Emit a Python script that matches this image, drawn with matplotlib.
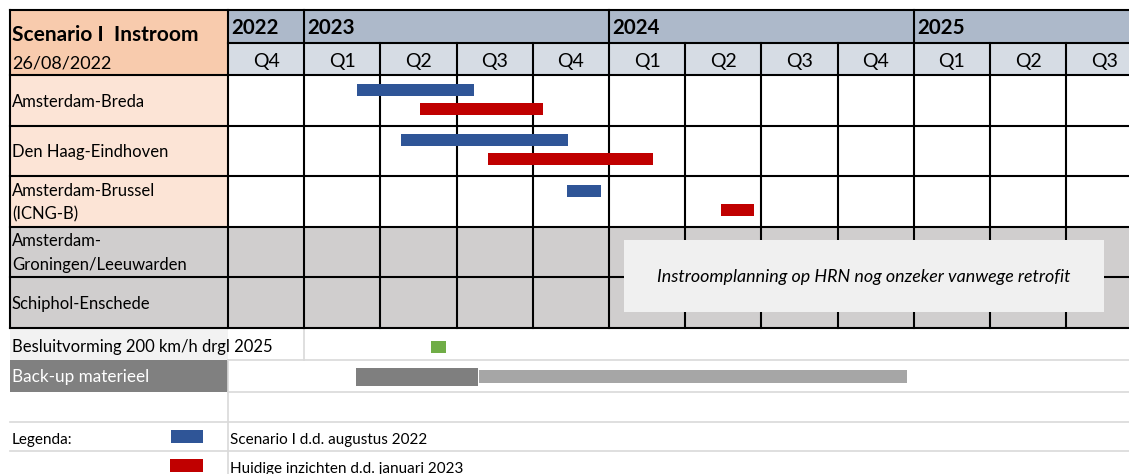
import matplotlib
matplotlib.use("Agg")
import matplotlib.pyplot as plt
from matplotlib.patches import Rectangle

plt.rcParams["font.family"] = ["Lato", "DejaVu Sans"]

# chart data (x in quarters, 0 = start of 2022 Q4)
years = ["2022", "2023", "2024", "2025"]
year_start = [0, 1, 5, 9]
quarters = ["Q4", "Q1", "Q2", "Q3", "Q4", "Q1", "Q2", "Q3", "Q4", "Q1", "Q2", "Q3"]
routes = ["Amsterdam-Breda", "Den Haag-Eindhoven", "Amsterdam-Brussel\n(ICNG-B)",
          "Amsterdam-\nGroningen/Leeuwarden", "Schiphol-Enschede"]
route_uncertain = [False, False, False, True, True]
plan_aug_start = [1.69, 2.27, 4.45]
plan_aug_end = [3.23, 4.46, 4.90]
plan_jan_start = [2.52, 3.41, 6.47]
plan_jan_end = [4.13, 5.58, 6.90]
besluit_start, besluit_end = 2.66, 2.86
backup_start = [1.68, 3.30]
backup_end = [3.28, 8.91]
note = "Instroomplanning op HRN nog onzeker vanwege retrofit"

BLUE = "#2f5597"
RED = "#c00000"
GREEN = "#70ad47"

# layout (pixel rows, quarter width)
QW = 76.2
X0 = 228
def qx(px):
    return (px - X0) / QW

row_edges = [75, 126, 176, 227, 277, 328]
nq = len(quarters)

fig = plt.figure(figsize=(11.29, 4.74), dpi=100)
ax = fig.add_axes([0, 0, 1, 1])
ax.set_xlim(qx(0), qx(1129))
ax.set_ylim(474, 0)
ax.axis("off")

left = qx(10)
right = qx(1129)

# header backgrounds
ax.add_patch(Rectangle((left, 10), 0 - left, 65, color="#f8cbad", lw=0))
ax.add_patch(Rectangle((0, 10), right, 33, color="#adb9ca", lw=0))
ax.add_patch(Rectangle((0, 43), right, 32, color="#d6dce4", lw=0))
ax.text(qx(12), 35, "Scenario I  Instroom", fontsize=15, fontweight="bold", va="center", ha="left")
ax.text(qx(12), 63, "26/08/2022", fontsize=13, va="center", ha="left")
for s, y in zip(year_start, years):
    ax.text(s + 0.04, 28, y, fontsize=14.8, fontweight="bold", va="center", ha="left")
for i, q in enumerate(quarters):
    ax.text(i + 0.5, 61, q, fontsize=14, va="center", ha="center")

# route rows
for i, r in enumerate(routes):
    top, bot = row_edges[i], row_edges[i + 1]
    if route_uncertain[i]:
        ax.add_patch(Rectangle((left, top), right - left, bot - top, color="#d0cece", lw=0))
    else:
        ax.add_patch(Rectangle((left, top), 0 - left, bot - top, color="#fce4d6", lw=0))
    ax.text(qx(12), (top + bot) / 2 + 1, r, fontsize=12, va="center", ha="left", linespacing=1.55)

# note box
ax.add_patch(Rectangle((qx(624), 240), qx(1104) - qx(624), 72, color="#f0f0f0", lw=0, zorder=3))
ax.text((qx(624) + qx(1104)) / 2, 277, note, fontsize=12.9, style="italic",
        va="center", ha="center", zorder=4)

# grid lines
lk = dict(color="black", lw=1.5, zorder=2, solid_capstyle="projecting")
ax.plot([left, right], [10, 10], **lk)
ax.plot([0, right], [43, 43], **lk)
for y in row_edges:
    ax.plot([left, right], [y, y], **lk)
ax.plot([left, left], [10, 328], **lk)
for i in range(nq + 1):
    top = 10 if (i in year_start or i == 0) else 43
    ax.plot([i, i], [top, 328], **lk)

# plan bars
for i in range(len(plan_aug_start)):
    top, bot = row_edges[i], row_edges[i + 1]
    h = bot - top
    ax.barh(top + 0.285 * h, plan_aug_end[i] - plan_aug_start[i], left=plan_aug_start[i],
            height=12, color=BLUE, zorder=3)
    ax.barh(top + 0.66 * h, plan_jan_end[i] - plan_jan_start[i], left=plan_jan_start[i],
            height=12, color=RED, zorder=3)

# lower section
gk = dict(color="#d9d9d9", lw=1.2, zorder=1)
ax.add_patch(Rectangle((left, 329), 0 - left, 31, color="#f2f2f2", lw=0))
ax.plot([1, 1], [329, 360], **gk)
ax.text(qx(12), 347, "Besluitvorming 200 km/h drgl 2025", fontsize=12, va="center", ha="left")
ax.barh(347, besluit_end - besluit_start, left=besluit_start, height=12, color=GREEN, zorder=3)

ax.add_patch(Rectangle((left, 360), 0 - left, 32, color="#808080", lw=0))
ax.text(qx(12), 377, "Back-up materieel", fontsize=12.3, color="white", va="center", ha="left")
ax.barh(377, backup_end[0] - backup_start[0], left=backup_start[0], height=18, color="#7f7f7f", zorder=3)
ax.barh(376.5, backup_end[1] - backup_start[1], left=backup_start[1], height=13, color="#a6a6a6", zorder=3)

for y in [360, 392, 422, 451]:
    ax.plot([left if y >= 422 else 0, right], [y, y], **gk)
ax.plot([0, 0], [360, 474], **gk)

# legend rows
ax.text(qx(12), 440, "Legenda:", fontsize=11, va="center", ha="left")
ax.add_patch(Rectangle((qx(171), 430), qx(203) - qx(171), 13, color=BLUE, lw=0))
ax.add_patch(Rectangle((qx(170), 459), qx(203) - qx(170), 13, color=RED, lw=0))
ax.text(qx(230), 440, "Scenario I d.d. augustus 2022", fontsize=11, va="center", ha="left")
ax.text(qx(230), 469, "Huidige inzichten d.d. januari 2023", fontsize=11, va="center", ha="left")

fig.savefig("out.png", dpi=100)
